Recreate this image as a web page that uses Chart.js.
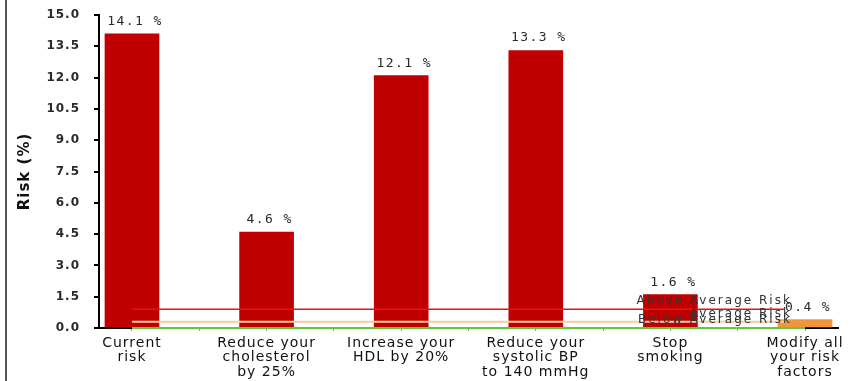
<!DOCTYPE html>
<html><head><meta charset="utf-8">
<script src="https://cdn.jsdelivr.net/npm/chart.js@4/dist/chart.umd.min.js"></script>
<style>
html,body{margin:0;padding:0;background:#fff;}
#wrap{position:relative;width:851px;height:381px;}
#edge{position:absolute;left:5px;top:0;width:2px;height:381px;background:#555;}
canvas{display:block;}
</style></head><body>
<div id="wrap"><canvas id="c" width="851" height="381"></canvas><div id="edge"></div></div>
<script>
const categories = [['Current','risk'],['Reduce your','cholesterol','by 25%'],['Increase your','HDL by 20%'],['Reduce your','systolic BP','to 140 mmHg'],['Stop','smoking'],['Modify all','your risk','factors']];
const riskValues = [14.1, 4.6, 12.1, 13.3, 1.6, 0.4];
const riskLabels = ['14.1 %','4.6 %','12.1 %','13.3 %','1.6 %','0.4 %'];
const yTickValues = [0,1.5,3,4.5,6,7.5,9,10.5,12,13.5,15];
const refNames = ['Above Average Risk','Average Risk','Below Average Risk'];
const refValues = [0.9, 0.3, 0];
const refStart = [0, 0, 0];
const refEnd = [4.85, 4.85, 5];

const barRed = '#c00000', barOrange = '#f0963c';
const refColors = ['rgb(228,20,20)','rgb(250,205,160)','rgb(100,200,60)'];
const refWidths = [1.5, 2, 2];

const spacingPlugin = {
  id:'spacing',
  beforeDraw(chart){ chart.ctx.letterSpacing = '1px'; }
};
const textPlugin = {
  id:'texts',
  afterDatasetsDraw(chart){
    const ctx = chart.ctx, x = chart.scales.x, y = chart.scales.y;
    ctx.save();
    ctx.font = '13px "DejaVu Sans Mono"'; ctx.fillStyle = '#2a2a2a'; ctx.textAlign = 'center'; ctx.textBaseline = 'alphabetic';
    ctx.letterSpacing = '1.4px';
    riskValues.forEach((v,i)=>{ ctx.fillText(riskLabels[i], x.getPixelForValue(i)+3, y.getPixelForValue(v)-9); });
    ctx.font = '12px "DejaVu Sans"'; ctx.textAlign = 'right'; ctx.letterSpacing = '2px'; ctx.fillStyle = '#333';
    const anchor = x.getPixelForValue(Math.min(...refEnd)) + 7;
    refNames.forEach((n,i)=>{ ctx.fillText(n, anchor, y.getPixelForValue(refValues[i]) - 5); });
    ctx.restore();
  }
};

new Chart(document.getElementById('c'), {
  type:'bar',
  data:{
    datasets:[
      ...refNames.map((n,i)=>({type:'line', label:n, data:[{x:refStart[i],y:refValues[i]},{x:refEnd[i],y:refValues[i]}], borderColor:refColors[i], borderWidth:refWidths[i], pointRadius:0, clip:false, order:0})),
      {type:'bar', label:'Risk', data:riskValues.map((v,i)=>({x:i,y:v})), backgroundColor:riskValues.map((v,i)=> i===riskValues.length-1 ? barOrange : barRed), barThickness:54, order:1}
    ]
  },
  options:{
    responsive:false, animation:false,
    layout:{padding:{top:15,right:13,bottom:0,left:0}},
    plugins:{legend:{display:false}, tooltip:{enabled:false}},
    scales:{
      x:{type:'linear', min:-0.245, max:5.245, offset:false,
        afterBuildTicks(s){ const t=[]; categories.forEach((c,i)=>{ t.push({value:i}); if(i<categories.length-1) t.push({value:i+0.5}); }); s.ticks=t; },
        afterFit(s){ s.height=53; s.paddingLeft=0; s.paddingRight=0; },
        border:{display:true,color:'#000',width:2},
        grid:{display:true,offset:false,drawOnChartArea:false,drawTicks:true,tickLength:3,color:'#999',lineWidth:1},
        ticks:{autoSkip:false,maxRotation:0,minRotation:0,padding:5,color:'#111',font:{family:'DejaVu Sans',size:14,lineHeight:1.03},
          callback:(v)=> Number.isInteger(v) ? categories[v] : ''}
      },
      y:{min:0,max:15,
        afterBuildTicks(s){ s.ticks = yTickValues.map(v=>({value:v})); },
        afterFit(s){ s.width=99; s.paddingTop=0; s.paddingBottom=0; },
        border:{display:true,color:'#000',width:2},
        grid:{drawOnChartArea:false,drawTicks:true,tickLength:5,color:'#000',lineWidth:2},
        ticks:{padding:14,color:'#2a2a2a',font:{family:'DejaVu Sans',size:12,weight:'bold'},callback:(v)=>Number(v).toFixed(1)},
        title:{display:true,text:'Risk (%)',color:'#111',font:{family:'DejaVu Sans',size:15,weight:'bold'},padding:{top:16,bottom:0}}
      }
    }
  },
  plugins:[spacingPlugin, textPlugin]
});
</script>
</body></html>
